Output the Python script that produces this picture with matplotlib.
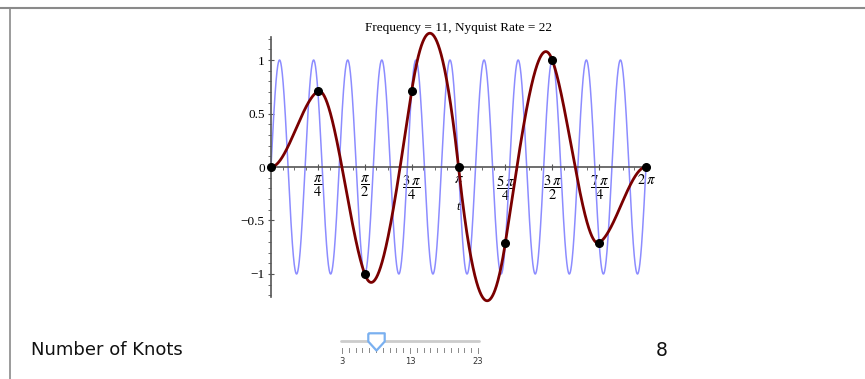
import numpy as np
import matplotlib
matplotlib.use("Agg")
import matplotlib.pyplot as plt
from matplotlib.lines import Line2D
from matplotlib.ticker import MultipleLocator

# knots shown in the plot (8 knots over 0..2pi)
frequency = 11
n_knots = 8
knot_t = np.arange(n_knots + 1) * np.pi / 4
knot_y = [0, 0.707, -1, 0.707, 0, -0.707, 1, -0.707, 0]
# slope of the red interpolating curve at each knot
knot_slope = [0, 0.3, -1.5, 3.6, -5.1, 3.6, -1.5, 0.3, 0]

xtick_vals = np.arange(1, 9) * np.pi / 4
xtick_labels = [r"$\dfrac{\pi}{4}$", r"$\dfrac{\pi}{2}$", r"$\dfrac{3\,\pi}{4}$", r"$\pi$",
                r"$\dfrac{5\,\pi}{4}$", r"$\dfrac{3\,\pi}{2}$", r"$\dfrac{7\,\pi}{4}$", r"$2\,\pi$"]
ytick_vals = [-1, -0.5, 0, 0.5, 1]
ytick_labels = ["\u22121", "\u22120.5", "0", "0.5", "1"]

slider_min, slider_max = 3, 23
slider_labels = [3, 13, 23]


def hermite(x, y, m, t):
    x = np.asarray(x, float)
    y = np.asarray(y, float)
    m = np.asarray(m, float)
    i = np.clip(np.searchsorted(x, t) - 1, 0, len(x) - 2)
    h = x[i + 1] - x[i]
    s = (t - x[i]) / h
    h00 = 2 * s**3 - 3 * s**2 + 1
    h10 = s**3 - 2 * s**2 + s
    h01 = -2 * s**3 + 3 * s**2
    h11 = s**3 - s**2
    return h00 * y[i] + h10 * h * m[i] + h01 * y[i + 1] + h11 * h * m[i + 1]


plt.rcParams['font.family'] = 'Liberation Serif'
plt.rcParams['mathtext.fontset'] = 'stix'

W, H = 865, 379
fig = plt.figure(figsize=(W / 100, H / 100), dpi=100)

# frame lines of the worksheet
fig.add_artist(Line2D([0, 1], [1 - 8 / H, 1 - 8 / H], color='#8a8a8a', lw=1.5))
fig.add_artist(Line2D([10 / W, 10 / W], [0, 1 - 8 / H], color='#8a8a8a', lw=1.2))

ax = fig.add_axes([271 / W, 1 - 297 / H, 375 / W, 260 / H])
t = np.linspace(0, 2 * np.pi, 3000)
ax.plot(t, np.sin(frequency * t), color='#8c8cff', lw=1.1, clip_on=False)
ax.plot(t, hermite(knot_t, knot_y, knot_slope, t), color='#7a0000', lw=2,
        clip_on=False, zorder=3)
ax.plot(knot_t, knot_y, 'o', color='black', ms=5.5, clip_on=False, zorder=4)

ax.set_xlim(0, 2 * np.pi)
ax.set_ylim(-1.215, 1.215)
for s in ['top', 'right']:
    ax.spines[s].set_visible(False)
ax.spines['bottom'].set_position(('data', 0))
ax.spines['left'].set_position(('data', 0))
for s in ['bottom', 'left']:
    ax.spines[s].set_color('#555555')
    ax.spines[s].set_linewidth(1.2)

ax.set_xticks(xtick_vals)
ax.set_xticklabels(xtick_labels, fontsize=10.5)
ax.xaxis.set_minor_locator(MultipleLocator(np.pi / 16))
ax.set_yticks(ytick_vals)
ax.set_yticklabels(ytick_labels, fontsize=9.5)
ax.yaxis.set_minor_locator(MultipleLocator(0.1))
ax.tick_params(axis='both', which='major', direction='inout', length=5, width=0.8, color='#555555')
ax.tick_params(axis='both', which='minor', direction='out', length=2.5, width=0.6, color='#555555')
ax.tick_params(axis='x', pad=2)
ax.tick_params(axis='y', pad=2)
for lab in ax.get_xticklabels():
    if lab.get_text() in (r"$\pi$", r"$2\,\pi$"):
        lab.set_fontsize(10.5)
ax.text(np.pi, -0.37, 't', fontstyle='italic', fontsize=9, ha='center', va='center')

ax.set_title('Frequency = 11, Nyquist Rate = 22', fontsize=9.5, y=1.0, pad=4)

# slider widget
sax = fig.add_axes([342 / W, 1 - 370 / H, 136 / W, 40 / H])
sax.set_xlim(slider_min, slider_max)
sax.set_ylim(0, 40)
sax.axis('off')
sax.plot([slider_min - 0.1, slider_max + 0.1], [29, 29], color='#cccccc', lw=2,
         solid_capstyle='round', clip_on=False)
for v in range(slider_min, slider_max + 1):
    tl = 5 if v in slider_labels else 3.5
    sax.plot([v, v], [22, 22 - tl], color='#888888', lw=0.7, clip_on=False)
for v in slider_labels:
    sax.text(v, 13, str(v), ha='center', va='top', fontsize=6,
             family='DejaVu Sans', color='#333333')
thumb = [(-1, 1), (1, 1), (1, 0), (0, -1.1), (-1, 0), (-1, 1)]
sax.plot([n_knots], [29], marker=thumb, ms=13, mfc='white', mec='#7ab0f0',
         mew=1.6, clip_on=False, zorder=5)

fig.text(31 / W, 1 - 350 / H, 'Number of Knots', fontsize=13, family='DejaVu Sans',
         va='center', ha='left', color='#111111')
fig.text(662 / W, 1 - 350 / H, str(n_knots), fontsize=13.5, family='DejaVu Sans',
         va='center', ha='center', color='#111111')

fig.savefig('out.png', dpi=100)
